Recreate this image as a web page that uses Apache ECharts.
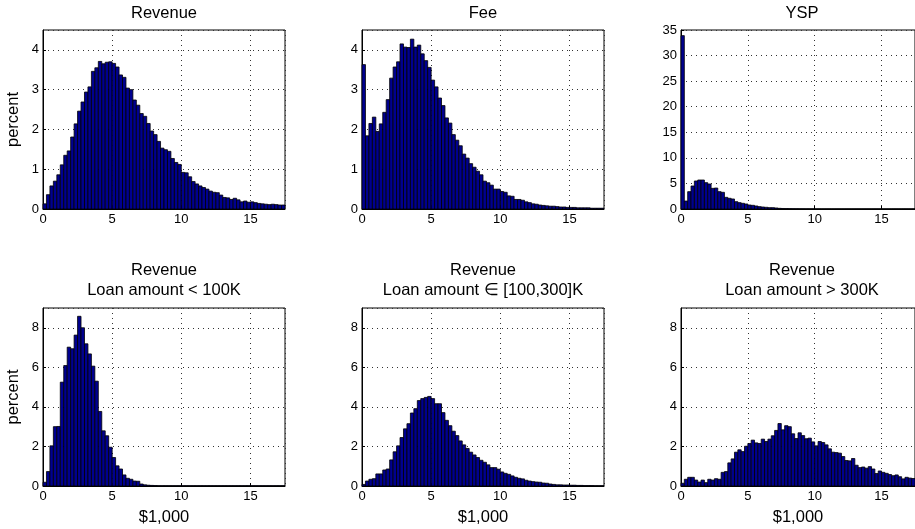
<!DOCTYPE html>
<html><head><meta charset="utf-8">
<script src="https://cdn.jsdelivr.net/npm/echarts@6/dist/echarts.min.js"></script>
<style>html,body{margin:0;padding:0;background:#fff}#c{width:915px;height:529px}</style>
</head><body><div id="c"></div>
<script>
// Histogram bins (left edges, $1,000), width 0.25
const binStarts = [0,0.25,0.5,0.75,1,1.25,1.5,1.75,2,2.25,2.5,2.75,3,3.25,3.5,3.75,4,4.25,4.5,4.75,
  5,5.25,5.5,5.75,6,6.25,6.5,6.75,7,7.25,7.5,7.75,8,8.25,8.5,8.75,9,9.25,9.5,9.75,
  10,10.25,10.5,10.75,11,11.25,11.5,11.75,12,12.25,12.5,12.75,13,13.25,13.5,13.75,14,14.25,14.5,14.75,
  15,15.25,15.5,15.75,16,16.25,16.5,16.75,17,17.25];
const BIN_WIDTH = 0.25;

const revenueAll = [0.13,0.36,0.58,0.70,0.86,1.11,1.35,1.46,1.81,2.14, 2.46,2.69,2.94,3.07,3.46,3.55,3.71,3.65,3.69,3.70,
  3.66,3.57,3.37,3.31,3.04,3.00,2.74,2.61,2.40,2.33, 2.15,1.96,1.87,1.70,1.53,1.49,1.45,1.27,1.17,1.12,
  0.92,0.91,0.81,0.69,0.63,0.58,0.54,0.50,0.45,0.42, 0.41,0.35,0.29,0.28,0.24,0.27,0.23,0.18,0.20,0.17,
  0.18,0.16,0.14,0.13,0.12,0.11,0.12,0.11,0.10,0.10];
const fee = [3.63,1.84,2.15,2.31,1.95,2.14,2.43,2.75,3.29,3.57, 3.70,4.15,4.07,4.06,4.27,4.07,4.12,3.90,3.73,3.56,
  3.24,3.07,2.79,2.60,2.29,2.16,1.87,1.73,1.59,1.38, 1.28,1.14,1.05,0.95,0.86,0.70,0.66,0.60,0.50,0.50,
  0.44,0.42,0.33,0.32,0.24,0.24,0.22,0.18,0.16,0.13, 0.12,0.10,0.09,0.08,0.07,0.07,0.06,0.05,0.05,0.04,
  0.04,0.04,0.03,0.03,0.03,0.03,0.02,0.02,0.02,0.02];
const ysp = [33.9,1.56,3.39,4.50,5.48,5.67,5.67,5.15,4.89,4.04, 4.10,3.39,3.26,2.28,2.09,1.96,1.43,1.24,1.11,0.98,
  0.78,0.72,0.59,0.46,0.39,0.33,0.26,0.26,0.20,0.13, 0.10,0.08,0.06,0.05,0.04,0.03,0.03,0.02,0.02,0.02,
  0.01,0.01,0.01,0.01,0.01,0.01,0.01,0.01,0.01,0.01, 0.01,0.01,0.01,0.01,0.01,0.01,0.01,0.01,0.01,0.01,
  0.01,0.01,0.01,0.01,0.01,0.01,0.01,0.01,0.01,0.01];
const revenueLow = [0.19,0.73,2.03,3.00,3.01,5.25,6.09,7.02,6.94,7.63, 8.58,8.00,7.19,6.68,6.06,5.30,3.77,2.79,2.54,1.96,
  1.44,1.02,0.86,0.56,0.39,0.34,0.25,0.24,0.10,0.06, 0.04,0.03,0.02,0.01,0.01,0.01,0.01,0.01,0.01,0.01,
  0.01,0.01,0.01,0.01,0.01,0.01,0.01,0.01,0.01,0.01, 0.01,0.01,0.01,0.01,0.01,0.01,0.01,0.01,0.01,0.01,
  0.01,0.01,0.01,0.01,0.01,0.01,0.01,0.01,0.01,0.01];
const revenueMid = [0.08,0.25,0.34,0.37,0.61,0.61,0.81,0.86,1.32,1.73, 2.03,2.45,2.89,3.15,3.69,3.91,4.32,4.42,4.48,4.53,
  4.42,4.16,4.16,3.71,3.32,3.05,2.77,2.55,2.28,2.08, 1.90,1.71,1.57,1.44,1.30,1.20,1.07,0.93,0.93,0.85,
  0.71,0.64,0.59,0.51,0.44,0.39,0.36,0.29,0.25,0.22, 0.20,0.19,0.15,0.14,0.10,0.08,0.06,0.06,0.05,0.05,
  0.04,0.04,0.03,0.03,0.02,0.02,0.02,0.01,0.01,0.01];
const revenueHigh = [0.14,0.34,0.44,0.44,0.30,0.20,0.30,0.17,0.34,0.30, 0.37,0.34,0.69,0.73,1.17,1.37,1.71,1.83,1.74,2.01,
  2.15,2.32,2.18,2.15,2.37,2.25,2.37,2.54,2.81,3.16, 2.84,3.05,3.00,2.64,2.40,2.69,2.55,2.39,2.42,2.23,
  2.03,2.25,2.20,2.08,1.88,1.71,1.69,1.66,1.49,1.29, 1.27,1.39,1.05,0.93,0.96,0.90,0.98,0.86,0.63,0.76,
  0.69,0.64,0.58,0.52,0.56,0.47,0.36,0.44,0.40,0.38];

const panelValues = [revenueAll, fee, ysp, revenueLow, revenueMid, revenueHigh];
const panelTitles = ['Revenue', 'Fee', 'YSP',
  'Revenue\nLoan amount < 100K', 'Revenue\nLoan amount \u2208 [100,300]K', 'Revenue\nLoan amount > 300K'];
const yMaxes = [4.5, 4.5, 35, 9, 9, 9];
const yIntervals = [1, 1, 5, 2, 2, 2];
const xMax = 17.5, xInterval = 5;
const yAxisName = 'percent';
const xAxisName = '$1,000';

const FONT = '"Liberation Sans", Arial, Helvetica, sans-serif';
const colLefts = [43, 362, 681];
const rowTops = [30, 308];
const rowHeights = [179, 178];
const plotWidth = 242;

const chart = echarts.init(document.getElementById('c'), null, {renderer: 'canvas'});

function renderItem(params, api) {
  const p0 = api.coord([api.value(0), api.value(2)]);
  const p1 = api.coord([api.value(1), 0]);
  return {
    type: 'rect',
    shape: {x: p0[0], y: p0[1], width: p1[0] - p0[0], height: p1[1] - p0[1]},
    style: {fill: '#00008f', stroke: '#000', lineWidth: 0.8}
  };
}

const grids = [], xAxes = [], yAxes = [], series = [], graphics = [];
panelValues.forEach((vals, i) => {
  const row = Math.floor(i / 3), col = i % 3;
  grids.push({left: colLefts[col], top: rowTops[row], width: plotWidth, height: rowHeights[row],
    show: true, borderColor: '#000', borderWidth: 1, backgroundColor: '#fff', containLabel: false});
  const gridLine = {show: true, lineStyle: {color: '#333', type: [1, 4], width: 1}};
  xAxes.push({type: 'value', gridIndex: i, min: 0, max: xMax, interval: xInterval,
    axisLine: {show: true, onZero: false, lineStyle: {color: '#000'}},
    axisTick: {show: true, inside: true, length: 3, lineStyle: {color: '#000'}},
    axisLabel: {show: true, color: '#000', fontFamily: FONT, fontSize: 13, margin: 4, showMaxLabel: false},
    splitLine: gridLine,
    name: row === 1 ? xAxisName : '', nameLocation: 'middle', nameGap: 23,
    nameTextStyle: {color: '#000', fontFamily: FONT, fontSize: 16.5}
  });
  yAxes.push({type: 'value', gridIndex: i, min: 0, max: yMaxes[i], interval: yIntervals[i],
    axisLine: {show: true, lineStyle: {color: '#000'}},
    axisTick: {show: true, inside: true, length: 3, lineStyle: {color: '#000'}},
    axisLabel: {show: true, color: '#000', fontFamily: FONT, fontSize: 13, margin: 4,
      showMaxLabel: yMaxes[i] % yIntervals[i] === 0},
    splitLine: gridLine,
    name: col === 0 ? yAxisName : '', nameLocation: 'middle', nameGap: 21, nameRotate: 90,
    nameTextStyle: {color: '#000', fontFamily: FONT, fontSize: 16.5}
  });
  series.push({type: 'custom', xAxisIndex: i, yAxisIndex: i, renderItem: renderItem,
    encode: {x: [0, 1], y: 2}, animation: false, silent: true,
    data: vals.map((v, k) => [binStarts[k], binStarts[k] + BIN_WIDTH, v])});
  const lines = panelTitles[i].split('\n');
  const cx = colLefts[col] + plotWidth / 2;
  lines.forEach((t, li) => {
    const cy = row === 0 ? 13 : (270 + li * 20);
    graphics.push({type: 'text', x: cx, y: cy,
      style: {text: t, fill: '#000', font: '16.5px ' + FONT, textAlign: 'center', textVerticalAlign: 'middle'}});
  });
});

chart.setOption({
  backgroundColor: '#fff',
  animation: false,
  grid: grids, xAxis: xAxes, yAxis: yAxes, series: series,
  graphic: graphics
});
</script></body></html>
